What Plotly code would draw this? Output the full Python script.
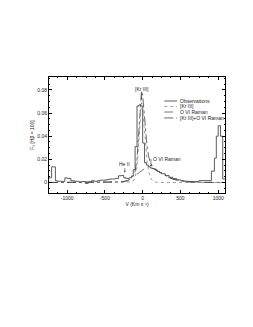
import plotly.graph_objects as go

# Observed spectrum (step histogram)
obs_v = [-1240, -1205, -1155, -1130, -1030, -1000, -950, -900, -850, -800, -760, -720,
         -680, -640, -600, -560, -520, -480, -440, -400, -360, -320, -280, -250, -220,
         -180, -150, -125, -100, -75, -50, -25, 0, 25, 50, 75, 100, 125, 150, 175, 200,
         225, 250, 300, 350, 400, 450, 500, 550, 600, 650, 700, 745, 800, 850, 910, 950,
         975, 1000, 1030, 1060, 1090]
obs_f = [0.004, 0.0135, 0.0015, 0.001, 0.004, 0.0035, 0.0015, 0.001, 0.0005, 0.0008, -0.0008, 0.0005,
         0.0015, 0.001, 0.0015, 0.002, 0.002, 0.0025, 0.003, 0.003, 0.0035, 0.0058, 0.006, 0.004, 0.0035,
         0.004, 0.0055, 0.011, 0.031, 0.066, 0.067, 0.066, 0.034, 0.017, 0.015, 0.0135, 0.0125, 0.012, 0.0115, 0.0105, 0.0095,
         0.0085, 0.0075, 0.006, 0.0045, 0.0033, 0.0023, 0.0016, 0.0011, 0.0008, 0.0006, 0.0008, 0.0016, 0.0016, 0.0016, 0.0098, 0.021,
         0.040, 0.049, 0.040, 0.003, 0.003]

# Model components
model_v = [-1240, -400, -300, -250, -200, -150, -125, -100, -75, -50, -30, -15, 0, 20, 40, 60,
           80, 100, 125, 150, 200, 250, 300, 350, 400, 450, 500, 600, 700, 800, 1090]
kr3_f = [0, 0, 0, 0, 0, 0.0004, 0.0012, 0.004, 0.013, 0.036, 0.058, 0.069, 0.064, 0.047, 0.029, 0.017,
         0.009, 0.0045, 0.0018, 0.0007, 0, 0, 0, 0, 0, 0, 0, 0, 0, 0, 0]
ovi_f = [0, 0.0001, 0.0004, 0.0008, 0.0016, 0.0032, 0.0043, 0.0056, 0.007, 0.0084, 0.0095, 0.0103, 0.011, 0.0119, 0.0126, 0.013,
         0.0132, 0.0131, 0.0126, 0.0118, 0.0098, 0.0077, 0.0058, 0.0042, 0.003, 0.002, 0.0013, 0.0006, 0.0002, 0.0001, 0]
sum_f = [a + b for a, b in zip(kr3_f, ovi_f)]

legend_names = ["Observations", "[Kr III]", "O VI Raman", "[Kr III]+O VI Raman"]
x_ticks = [-1000, -500, 0, 500, 1000]
y_ticks = [0, 0.02, 0.04, 0.06, 0.08]

FONT = "Liberation Sans"
styles = [dict(color="#4a4a4a", width=0.9, dash="solid"),
          dict(color="#888888", width=0.8, dash="dot"),
          dict(color="#555555", width=0.8, dash="dash"),
          dict(color="#444444", width=0.8, dash="dashdot")]

fig = go.Figure()
fig.add_trace(go.Scatter(x=obs_v, y=obs_f, mode="lines", line=dict(shape="hv", **styles[0]),
                         name=legend_names[0], showlegend=False))
fig.add_trace(go.Scatter(x=model_v, y=kr3_f, mode="lines", line=styles[1], name=legend_names[1], showlegend=False))
fig.add_trace(go.Scatter(x=model_v, y=ovi_f, mode="lines", line=styles[2], name=legend_names[2], showlegend=False))
fig.add_trace(go.Scatter(x=model_v, y=sum_f, mode="lines", line=styles[3], name=legend_names[3], showlegend=False))

# Custom compact legend drawn on an overlay axis spanning the plot area (0..1)
leg_y = [0.793, 0.746, 0.698, 0.647]
for name, st, yy in zip(legend_names, styles, leg_y):
    fig.add_trace(go.Scatter(x=[0.655, 0.727], y=[yy, yy], mode="lines", line=st,
                             xaxis="x2", yaxis="y2", showlegend=False, hoverinfo="skip"))
    fig.add_annotation(xref="paper", yref="paper", x=0.731, y=yy, text=name, showarrow=False,
                       xanchor="left", yanchor="middle", font=dict(family=FONT, size=5, color="#222"))

ann_font = dict(family=FONT, size=5, color="#222")
fig.add_annotation(x=-15, y=0.0715, text="[Kr III]", showarrow=True, arrowhead=2, arrowsize=0.6,
                   arrowwidth=0.6, ax=0, ay=-11, font=ann_font)
fig.add_annotation(x=-236, y=0.0085, text="He II", showarrow=True, arrowhead=2, arrowsize=0.6,
                   arrowwidth=0.6, ax=0, ay=-9, font=ann_font)
fig.add_annotation(x=110, y=0.0135, text="O VI Raman", showarrow=True, arrowhead=2, arrowsize=0.6,
                   arrowwidth=0.6, ax=0, ay=-8, xanchor="left", font=ann_font)

axis_common = dict(showgrid=False, zeroline=False, showline=True, linecolor="black", linewidth=0.8,
                   mirror="allticks", ticks="inside", ticklen=3, tickwidth=0.6, tickcolor="black",
                   tickfont=dict(family=FONT, size=5, color="#222"))
fig.update_layout(
    xaxis=dict(range=[-1240, 1090], tickvals=x_ticks, ticktext=[str(v) for v in x_ticks],
               minor=dict(dtick=125, tick0=0, ticks="inside", ticklen=1.5, tickcolor="black", tickwidth=0.5),
               title=dict(text="V (Km s⁻¹)", font=dict(family=FONT, size=5, color="#222"), standoff=1),
               **axis_common),
    yaxis=dict(range=[-0.0091, 0.0911], tickvals=y_ticks, ticktext=["0", "0.02", "0.04", "0.06", "0.08"],
               minor=dict(dtick=0.005, tick0=0, ticks="inside", ticklen=1.5, tickcolor="black", tickwidth=0.5),
               title=dict(text="F<sub>λ</sub> [Hβ = 100]", font=dict(family=FONT, size=5, color="#222"), standoff=2),
               **axis_common),
    xaxis2=dict(range=[0, 1], overlaying="x", visible=False, fixedrange=True),
    yaxis2=dict(range=[0, 1], overlaying="y", visible=False, fixedrange=True),
    width=253, height=327, margin=dict(l=41, r=36, t=69, b=142),
    paper_bgcolor="white", plot_bgcolor="white", showlegend=False)
fig.write_html("out.html")
